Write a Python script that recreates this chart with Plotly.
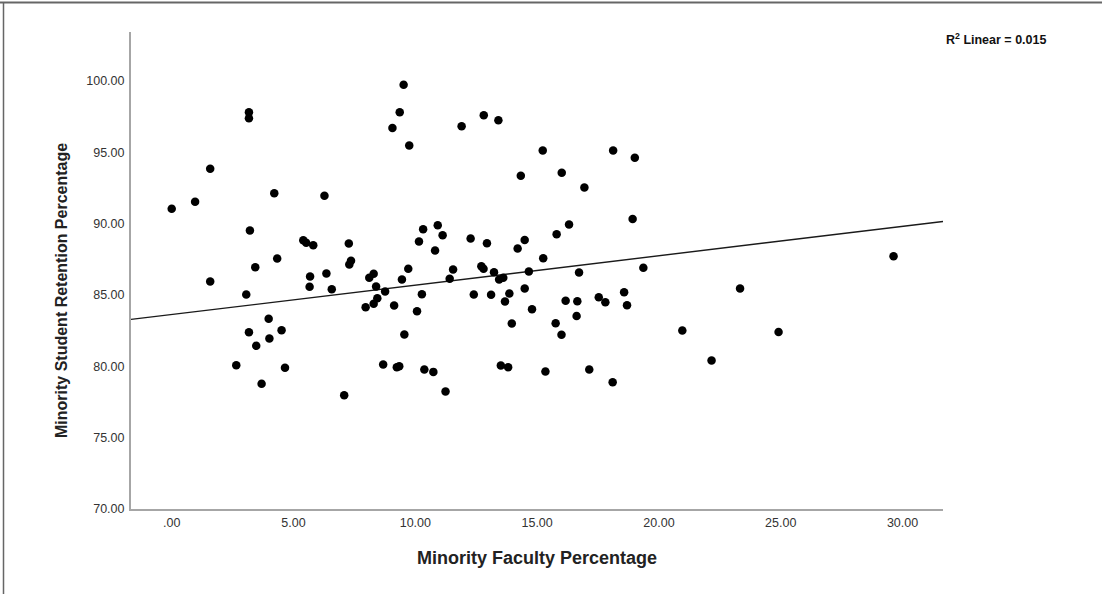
import numpy as np
import plotly.graph_objects as go

# ---- data ----
faculty_pct = [
    0.00, 0.96, 1.58, 1.58, 2.65, 3.06, 3.17, 3.17, 3.21, 3.17,
    3.43, 3.47, 3.69, 3.98, 4.01, 4.21, 4.33, 4.51, 4.65, 5.40,
    5.52, 5.81, 5.68, 5.66, 6.27, 6.35, 6.57, 7.08, 7.27, 7.36,
    7.29, 7.96, 8.11, 8.29, 8.29, 8.39, 8.44, 8.68, 8.76, 9.06,
    9.13, 9.24, 9.34, 9.36, 9.45, 9.52, 9.55, 9.71, 9.75, 10.07,
    10.15, 10.27, 10.32, 10.37, 10.74, 10.81, 10.92, 11.12, 11.24, 11.41,
    11.55, 11.90, 12.27, 12.40, 12.71, 12.80, 12.81, 12.94, 13.11, 13.23,
    13.41, 13.44, 13.51, 13.61, 13.68, 13.81, 13.86, 13.96, 14.20, 14.33,
    14.49, 14.49, 14.66, 14.79, 15.23, 15.25, 15.34, 15.76, 15.80, 16.00,
    16.01, 16.17, 16.31, 16.62, 16.65, 16.72, 16.94, 17.14, 17.53, 17.80,
    18.10, 18.12, 18.57, 18.69, 18.92, 19.01, 19.36, 20.96, 22.16, 23.33,
    24.91, 29.63,
]
retention_pct = [
    91.04, 91.53, 93.85, 85.94, 80.08, 85.03, 97.80, 97.39, 89.52, 82.39,
    86.95, 81.44, 78.77, 83.33, 81.95, 92.13, 87.55, 82.53, 79.90, 88.84,
    88.66, 88.49, 86.29, 85.57, 91.96, 86.50, 85.40, 77.97, 88.61, 87.40,
    87.13, 84.14, 86.20, 86.48, 84.38, 85.59, 84.77, 80.13, 85.24, 96.71,
    84.26, 79.94, 80.01, 97.81, 86.08, 99.73, 82.23, 86.83, 95.47, 83.86,
    88.75, 85.05, 89.61, 79.78, 79.61, 88.12, 89.89, 89.19, 78.23, 86.13,
    86.78, 96.83, 88.96, 85.03, 87.02, 86.83, 97.60, 88.63, 85.01, 86.59,
    97.25, 86.08, 80.06, 86.20, 84.54, 79.94, 85.10, 83.00, 88.26, 93.36,
    88.86, 85.45, 86.64, 84.00, 95.12, 87.58, 79.64, 83.02, 89.26, 82.21,
    93.56, 84.59, 89.94, 83.53, 84.56, 86.57, 92.54, 79.78, 84.84, 84.49,
    78.89, 95.12, 85.19, 84.28, 90.32, 94.61, 86.90, 82.51, 80.41, 85.45,
    82.41, 87.72,
]
# fit line as shown in the reference (SPSS "R2 Linear" line)
fit_intercept = 83.63
fit_slope = 0.206
r2_text = "0.015"

x_tick_vals = [0, 5, 10, 15, 20, 25, 30]
x_tick_text = [".00", "5.00", "10.00", "15.00", "20.00", "25.00", "30.00"]
y_tick_vals = [70, 75, 80, 85, 90, 95, 100]
y_tick_text = ["70.00", "75.00", "80.00", "85.00", "90.00", "95.00", "100.00"]
x_title = "Minority Faculty Percentage"
y_title = "Minority Student Retention Percentage"

# ---- layout constants ----
W, H = 1102, 594
ML, MR, MT, MB = 131, 159, 32, 85
X_RANGE = [-1.671, 31.66]
Y_RANGE = [70, 103.43]
FONT = "Arial, 'Liberation Sans', sans-serif"

pw = W - ML - MR
ph = H - MT - MB


def px_to_paper_x(px):
    return (px - ML) / pw


def px_to_paper_y(py):
    return (H - MB - py) / ph


fit_x = np.array(X_RANGE)
fit_y = fit_intercept + fit_slope * fit_x

fig = go.Figure()
fig.add_trace(go.Scatter(
    x=fit_x, y=fit_y, mode="lines",
    line=dict(color="#1a1a1a", width=1.4),
    hoverinfo="skip", showlegend=False,
))
fig.add_trace(go.Scatter(
    x=faculty_pct, y=retention_pct, mode="markers",
    marker=dict(color="black", size=8.5, line=dict(width=0)),
    showlegend=False,
))

fig.update_layout(
    width=W, height=H, autosize=False,
    margin=dict(l=ML, r=MR, t=MT, b=MB, pad=0),
    paper_bgcolor="white", plot_bgcolor="white",
    font=dict(family=FONT, color="#333333", size=13),
    showlegend=False,
    xaxis=dict(
        range=X_RANGE, tickvals=x_tick_vals, ticktext=x_tick_text,
        showgrid=False, zeroline=False, ticks="",
        showline=True, linecolor="#a6a6a6", linewidth=2,
        tickfont=dict(size=12.5, color="#333333", family=FONT),
        ticklabelstandoff=1, fixedrange=True,
    ),
    yaxis=dict(
        range=Y_RANGE, tickvals=y_tick_vals, ticktext=y_tick_text,
        showgrid=False, zeroline=False, ticks="",
        showline=True, linecolor="#a6a6a6", linewidth=2,
        tickfont=dict(size=12.5, color="#333333", family=FONT),
        ticklabelstandoff=2, fixedrange=True,
    ),
    annotations=[
        dict(text="<b>" + x_title + "</b>", xref="paper", yref="paper",
             x=px_to_paper_x(537), y=px_to_paper_y(558),
             xanchor="center", yanchor="middle", showarrow=False,
             font=dict(size=18, color="#222222", family=FONT)),
        dict(text="<b>" + y_title + "</b>", xref="paper", yref="paper",
             x=px_to_paper_x(61), y=px_to_paper_y(291), textangle=-90,
             xanchor="center", yanchor="middle", showarrow=False,
             font=dict(size=16, color="#222222", family=FONT)),
        dict(text="<b>R<sup>2</sup> Linear = " + r2_text + "</b>",
             xref="paper", yref="paper",
             x=px_to_paper_x(944), y=px_to_paper_y(39),
             xanchor="left", yanchor="middle", showarrow=False,
             font=dict(size=12.5, color="#111111", family=FONT)),
    ],
    shapes=[
        dict(type="line", xref="paper", yref="paper",
             x0=px_to_paper_x(0), x1=px_to_paper_x(W),
             y0=px_to_paper_y(2.5), y1=px_to_paper_y(2.5),
             line=dict(color="#666666", width=2)),
        dict(type="line", xref="paper", yref="paper",
             x0=px_to_paper_x(3.5), x1=px_to_paper_x(3.5),
             y0=px_to_paper_y(2), y1=px_to_paper_y(H),
             line=dict(color="#666666", width=1.5)),
    ],
)

fig.write_html("out.html")
